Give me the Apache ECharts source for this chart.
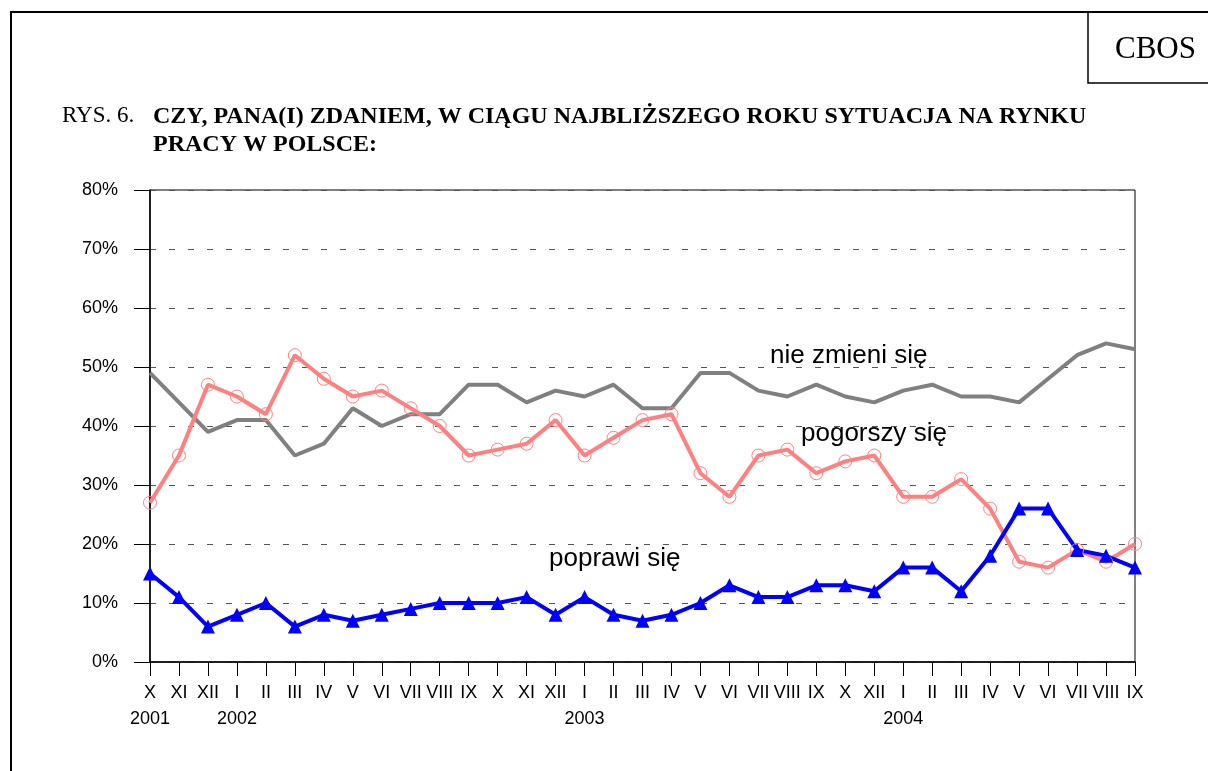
<!DOCTYPE html>
<html>
<head>
<meta charset="utf-8">
<script src="https://cdn.jsdelivr.net/npm/echarts@6/dist/echarts.min.js"></script>
<style>
  html, body { margin: 0; padding: 0; background: #fff; }
  #chart { width: 1208px; height: 771px; }
</style>
</head>
<body>
<div id="chart"></div>
<script>
// miesiące (X 2001 - IX 2004)
var months = ['X','XI','XII','I','II','III','IV','V','VI','VII','VIII','IX',
              'X','XI','XII','I','II','III','IV','V','VI','VII','VIII','IX',
              'X','XII','I','II','III','IV','V','VI','VII','VIII','IX'];
// rok pod wybranymi miesiącami
var years = {0: '2001', 3: '2002', 15: '2003', 26: '2004'};

var nieZmieni = [49,44,39,41,41,35,37,43,40,42,42,47,47,44,46,45,47,43,43,49,49,46,45,47,45,44,46,47,45,45,44,48,52,54,53];
var pogorszy  = [27,35,47,45,42,52,48,45,46,43,40,35,36,37,41,35,38,41,42,32,28,35,36,32,34,35,28,28,31,26,17,16,19,17,20];
var poprawi   = [15,11,6,8,10,6,8,7,8,9,10,10,10,11,8,11,8,7,8,10,13,11,11,13,13,12,16,16,12,18,26,26,19,18,16];

var categories = months.map(function (m, i) {
    return years[i] ? m + '\n' + years[i] : m;
});

var chart = echarts.init(document.getElementById('chart'));

var option = {
    animation: false,
    backgroundColor: '#fff',
    grid: {
        left: 150, right: 73, top: 190, bottom: 109,
        show: true,
        borderColor: '#000',
        borderWidth: 1
    },
    xAxis: {
        type: 'category',
        boundaryGap: false,
        data: categories,
        axisLine: { lineStyle: { color: '#000', width: 1.5 } },
        axisTick: { show: true, length: 14, lineStyle: { color: '#000' } },
        axisLabel: {
            interval: 0,
            color: '#000',
            fontFamily: 'Liberation Sans, Arial, sans-serif',
            fontSize: 18,
            lineHeight: 26,
            margin: 18
        },
        splitLine: { show: false }
    },
    yAxis: {
        type: 'value',
        min: 0, max: 80, interval: 10,
        axisLine: { show: true, lineStyle: { color: '#000', width: 1.5 } },
        axisTick: { show: true, inside: false, length: 16, lineStyle: { color: '#000' } },
        axisLabel: {
            formatter: '{value}%',
            color: '#000',
            fontFamily: 'Liberation Sans, Arial, sans-serif',
            fontSize: 18,
            margin: 32
        },
        splitLine: {
            show: true,
            lineStyle: { color: '#555', width: 1, type: [6, 13] }
        }
    },
    series: [
        {
            name: 'nie zmieni się',
            type: 'line',
            data: nieZmieni,
            symbol: 'none',
            lineStyle: { color: '#808080', width: 4 },
            itemStyle: { color: '#808080' }
        },
        {
            name: 'pogorszy się',
            type: 'line',
            data: pogorszy,
            symbol: 'circle',
            symbolSize: 13,
            lineStyle: { color: '#FF8080', width: 4 },
            itemStyle: { color: 'rgba(255,255,255,0)', borderColor: '#FF8080', borderWidth: 1 }
        },
        {
            name: 'poprawi się',
            type: 'line',
            data: poprawi,
            symbol: 'triangle',
            symbolSize: 14,
            lineStyle: { color: '#0000FF', width: 4 },
            itemStyle: { color: '#0000FF' }
        }
    ],
    graphic: [
        // ramka strony
        { type: 'polyline', shape: { points: [[11, 771], [11, 12], [1208, 12]] },
          style: { stroke: '#000', lineWidth: 2, fill: null } },
        // CBOS
        { type: 'polyline', shape: { points: [[1088, 12], [1088, 83], [1208, 83]] },
          style: { stroke: '#000', lineWidth: 1.5, fill: null } },
        { type: 'text', left: 1115, top: 34,
          style: { text: 'CBOS', font: '31px "Liberation Serif", "Times New Roman", serif', fill: '#000' } },
        // tytuł
        { type: 'text', left: 62, top: 104,
          style: { text: 'RYS. 6.', font: '23px "Liberation Serif", "Times New Roman", serif', fill: '#000' } },
        { type: 'text', left: 153, top: 103,
          style: { text: 'CZY, PANA(I) ZDANIEM, W CIĄGU NAJBLIŻSZEGO ROKU SYTUACJA NA RYNKU\nPRACY W POLSCE:',
                   font: 'bold 24px "Liberation Serif", "Times New Roman", serif', lineHeight: 28, fill: '#000' } },
        // etykiety serii
        { type: 'text', left: 770, top: 343,
          style: { text: 'nie zmieni się', font: '26px "Liberation Sans", Arial, sans-serif', fill: '#000' } },
        { type: 'text', left: 801, top: 421,
          style: { text: 'pogorszy się', font: '26px "Liberation Sans", Arial, sans-serif', fill: '#000' } },
        { type: 'text', left: 549, top: 546,
          style: { text: 'poprawi się', font: '26px "Liberation Sans", Arial, sans-serif', fill: '#000' } }
    ]
};

chart.setOption(option);
</script>
</body>
</html>
